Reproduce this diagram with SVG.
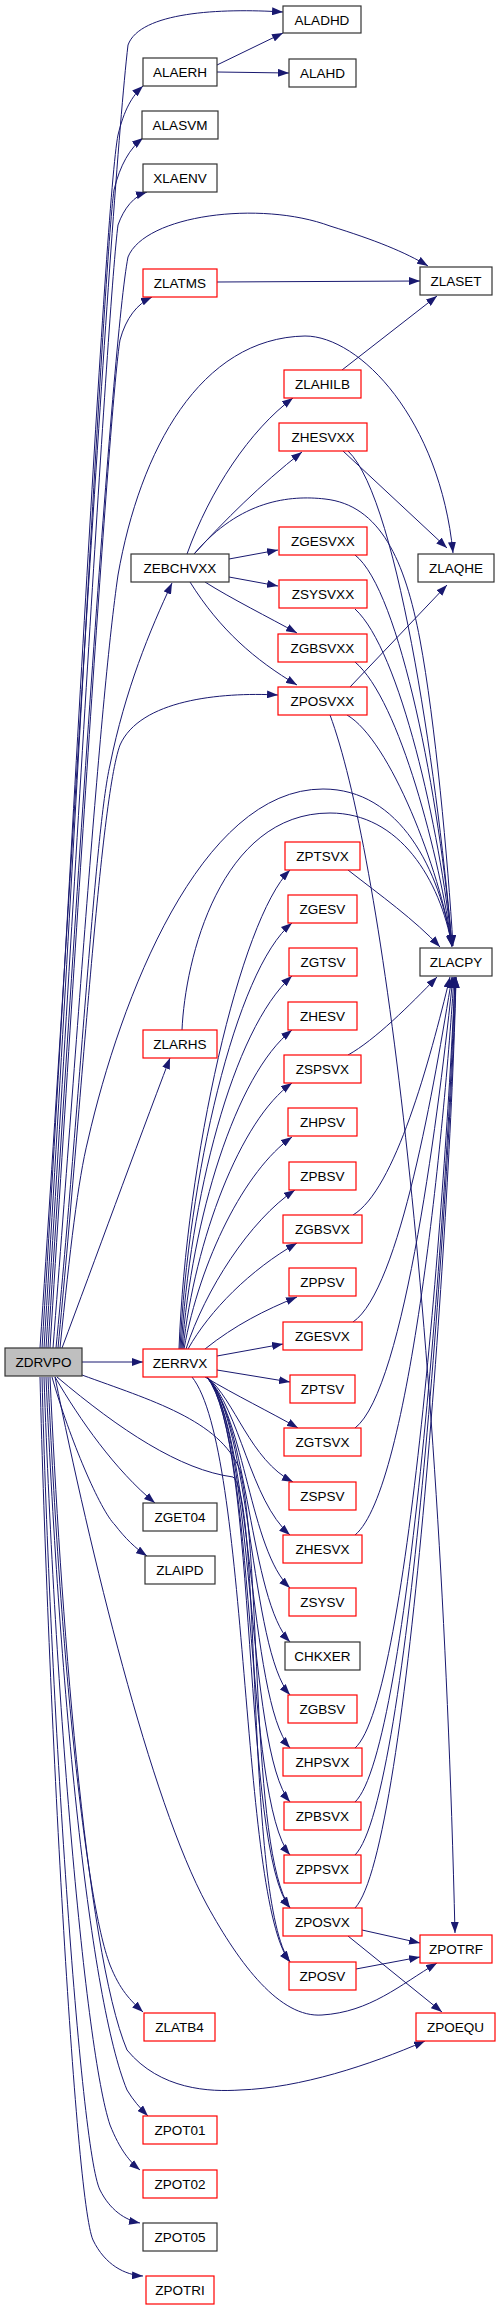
<svg xmlns="http://www.w3.org/2000/svg" width="501" height="2311" viewBox="0 0 501 2311">
<defs>
<marker id="a" markerWidth="11" markerHeight="8" refX="11" refY="4" orient="auto" markerUnits="userSpaceOnUse"><path d="M0,0 L11,4 L0,8 z" fill="#191970"/></marker>
<style>
.n rect{fill:#fff;stroke:#333;stroke-width:1.2}
.r rect{fill:#fff;stroke:#ff0000;stroke-width:1.2}
text{font-family:"Liberation Sans",Arial,sans-serif;font-size:13.5px;text-anchor:middle;fill:#000}
#edges path{fill:none;stroke:#191970;stroke-width:1;marker-end:url(#a)}
</style>
</defs>
<rect width="501" height="2311" fill="#fff"/>
<g id="edges">
<path d="M40,1348 C70,900 110,200 128,45 C140,12 220,8 283,12"/>
<path d="M42,1348 C70,900 105,200 118,135 C124,110 132,96 143,86"/>
<path d="M44,1348 C72,900 104,260 114,190 C120,165 130,148 143,138"/>
<path d="M46,1348 C74,900 108,300 118,225 C124,208 134,196 147,192"/>
<path d="M48,1348 C76,900 112,340 128,257 C145,215 260,200 330,226 C375,240 405,252 428,266"/>
<path d="M50,1348 C78,900 110,400 120,340 C126,318 137,304 152,297"/>
<path d="M53,1348 C80,1000 100,700 118,575 C140,450 200,338 305,336 C360,336 440,420 453,553"/>
<path d="M56,1348 C80,1100 95,830 110,765 C125,690 150,630 172,583"/>
<path d="M58,1348 C82,1100 100,800 120,745 C140,700 220,692 278,695"/>
<path d="M60,1348 C70,1250 78,1180 88,1140 C120,1000 200,789 323,789 C400,789 440,870 452,947"/>
<path d="M62,1348 C95,1260 135,1150 170,1058"/>
<path d="M82,1362 L143,1362"/>
<path d="M55,1377 C80,1420 115,1470 155,1503"/>
<path d="M52,1377 C70,1440 100,1510 115,1525 C125,1538 135,1548 147,1556"/>
<path d="M82,1375 C150,1400 220,1420 240,1470 C262,1560 250,1850 290,1908"/>
<path d="M57,1377 C120,1430 180,1470 233,1477 C262,1500 245,1900 290,1962"/>
<path d="M55,1377 C90,1550 150,1800 207,1905 C240,1965 280,2018 322,2015 C370,2012 400,1985 437,1963"/>
<path d="M50,1377 C60,1600 85,1950 127,2050 C160,2090 210,2092 240,2090 C300,2088 370,2065 425,2041"/>
<path d="M48,1377 C60,1650 85,1900 110,1965 C120,1990 130,2000 143,2012"/>
<path d="M46,1377 C60,1700 90,2000 127,2090 C133,2100 140,2108 148,2116"/>
<path d="M44,1377 C55,1700 85,2050 110,2125 C120,2150 130,2162 140,2170"/>
<path d="M42,1377 C50,1700 80,2150 100,2190 C110,2210 125,2220 140,2223"/>
<path d="M40,1377 C48,1700 75,2200 93,2240 C105,2265 125,2275 143,2276"/>
<path d="M217,65 L283,33"/>
<path d="M217,72 L289,73"/>
<path d="M217,282 L420,281"/>
<path d="M342,370 L437,296"/>
<path d="M187,554 C210,490 250,430 293,398"/>
<path d="M194,554 C225,520 260,485 302,452"/>
<path d="M229,559 L278,550"/>
<path d="M229,577 L278,586"/>
<path d="M205,582 C230,598 270,618 297,633"/>
<path d="M190,582 C220,630 255,660 297,685"/>
<path d="M195,553 C240,500 290,495 325,499 C380,505 405,560 420,640 C435,720 448,860 453,946"/>
<path d="M343,451 L447,548"/>
<path d="M350,687 L447,585"/>
<path d="M330,715 C380,850 440,1300 455,1933"/>
<path d="M348,451 C400,500 440,800 452,946"/>
<path d="M355,555 C400,590 440,800 452,946"/>
<path d="M355,609 C400,650 440,830 452,946"/>
<path d="M355,662 C400,700 440,860 452,946"/>
<path d="M347,715 C390,740 440,870 452,946"/>
<path d="M182,1030 C185,960 220,813 330,813 C400,813 440,880 452,946"/>
<path d="M348,870 C380,895 415,920 440,947"/>
<path d="M348,1055 C375,1040 410,1005 437,977"/>
<path d="M353,1215 C395,1190 430,1060 450,977"/>
<path d="M353,1322 C400,1290 435,1080 452,977"/>
<path d="M355,1428 C405,1390 440,1100 453,977"/>
<path d="M355,1535 C410,1490 445,1120 454,977"/>
<path d="M355,1748 C410,1700 448,1150 455,977"/>
<path d="M355,1802 C410,1750 450,1160 455,977"/>
<path d="M355,1855 C410,1800 450,1170 456,977"/>
<path d="M355,1908 C410,1850 452,1180 456,977"/>
<path d="M179,1349 C186,1160 240,920 290,870"/>
<path d="M180,1349 C188,1180 235,970 292,923"/>
<path d="M181,1349 C190,1200 232,1030 292,976"/>
<path d="M182,1349 C192,1220 235,1075 292,1030"/>
<path d="M183,1349 C195,1240 240,1120 292,1083"/>
<path d="M184,1349 C200,1260 245,1170 292,1137"/>
<path d="M186,1349 C205,1290 250,1220 295,1190"/>
<path d="M188,1349 C210,1310 250,1270 297,1243"/>
<path d="M205,1349 C235,1325 265,1310 297,1297"/>
<path d="M217,1356 L283,1344"/>
<path d="M217,1370 L290,1382"/>
<path d="M205,1377 C235,1395 270,1412 298,1428"/>
<path d="M207,1377 C235,1400 250,1460 293,1482"/>
<path d="M207,1377 C240,1410 250,1500 290,1535"/>
<path d="M207,1377 C245,1420 250,1550 290,1588"/>
<path d="M207,1377 C248,1420 250,1600 290,1642"/>
<path d="M207,1377 C250,1420 250,1650 290,1695"/>
<path d="M207,1377 C252,1430 248,1700 290,1748"/>
<path d="M207,1377 C254,1430 246,1750 290,1802"/>
<path d="M207,1377 C256,1440 244,1800 290,1855"/>
<path d="M207,1377 C258,1440 242,1850 290,1908"/>
<path d="M192,1377 C250,1450 240,1900 290,1962"/>
<path d="M362,1930 L420,1943"/>
<path d="M356,1969 L420,1957"/>
<path d="M348,1936 L442,2012"/>
</g>
<g id="ALADHD" class="n"><rect x="283" y="6" width="78" height="27"/><text x="322" y="24.5">ALADHD</text></g>
<g id="ALAERH" class="n"><rect x="143" y="58" width="74" height="28"/><text x="180" y="77">ALAERH</text></g>
<g id="ALAHD" class="n"><rect x="289" y="59" width="67" height="28"/><text x="322.5" y="78">ALAHD</text></g>
<g id="ALASVM" class="n"><rect x="142" y="111" width="76" height="28"/><text x="180" y="130">ALASVM</text></g>
<g id="XLAENV" class="n"><rect x="143" y="164" width="74" height="28"/><text x="180" y="183">XLAENV</text></g>
<g id="ZLATMS" class="r"><rect x="143" y="269" width="74" height="28"/><text x="180" y="288">ZLATMS</text></g>
<g id="ZLASET" class="n"><rect x="420" y="267" width="72" height="28"/><text x="456" y="286">ZLASET</text></g>
<g id="ZLAHILB" class="r"><rect x="284" y="370" width="77" height="28"/><text x="322.5" y="389">ZLAHILB</text></g>
<g id="ZHESVXX" class="r"><rect x="279" y="423" width="88" height="28"/><text x="323" y="442">ZHESVXX</text></g>
<g id="ZGESVXX" class="r"><rect x="279" y="527" width="88" height="28"/><text x="323" y="546">ZGESVXX</text></g>
<g id="ZEBCHVXX" class="n"><rect x="131" y="554" width="98" height="28"/><text x="180" y="573">ZEBCHVXX</text></g>
<g id="ZLAQHE" class="n"><rect x="418" y="554" width="76" height="28"/><text x="456" y="573">ZLAQHE</text></g>
<g id="ZSYSVXX" class="r"><rect x="279" y="580" width="88" height="28"/><text x="323" y="599">ZSYSVXX</text></g>
<g id="ZGBSVXX" class="r"><rect x="278" y="634" width="89" height="28"/><text x="322.5" y="653">ZGBSVXX</text></g>
<g id="ZPOSVXX" class="r"><rect x="278" y="687" width="89" height="28"/><text x="322.5" y="706">ZPOSVXX</text></g>
<g id="ZPTSVX" class="r"><rect x="285" y="842" width="75" height="28"/><text x="322.5" y="861">ZPTSVX</text></g>
<g id="ZGESV" class="r"><rect x="288" y="895" width="69" height="28"/><text x="322.5" y="914">ZGESV</text></g>
<g id="ZLACPY" class="n"><rect x="420" y="948" width="72" height="28"/><text x="456" y="967">ZLACPY</text></g>
<g id="ZGTSV" class="r"><rect x="289" y="948" width="68" height="28"/><text x="323" y="967">ZGTSV</text></g>
<g id="ZHESV" class="r"><rect x="288" y="1002" width="69" height="28"/><text x="322.5" y="1021">ZHESV</text></g>
<g id="ZLARHS" class="r"><rect x="143" y="1030" width="74" height="28"/><text x="180" y="1049">ZLARHS</text></g>
<g id="ZSPSVX" class="r"><rect x="284" y="1055" width="77" height="28"/><text x="322.5" y="1074">ZSPSVX</text></g>
<g id="ZHPSV" class="r"><rect x="288" y="1108" width="69" height="28"/><text x="322.5" y="1127">ZHPSV</text></g>
<g id="ZPBSV" class="r"><rect x="289" y="1162" width="67" height="28"/><text x="322.5" y="1181">ZPBSV</text></g>
<g id="ZGBSVX" class="r"><rect x="283" y="1215" width="79" height="28"/><text x="322.5" y="1234">ZGBSVX</text></g>
<g id="ZPPSV" class="r"><rect x="289" y="1268" width="67" height="28"/><text x="322.5" y="1287">ZPPSV</text></g>
<g id="ZGESVX" class="r"><rect x="283" y="1322" width="79" height="28"/><text x="322.5" y="1341">ZGESVX</text></g>
<g id="ZDRVPO" class="n"><rect x="5" y="1348" width="77" height="28" style="fill:#bfbfbf"/><text x="43.5" y="1367">ZDRVPO</text></g>
<g id="ZERRVX" class="r"><rect x="143" y="1349" width="74" height="28"/><text x="180" y="1368">ZERRVX</text></g>
<g id="ZPTSV" class="r"><rect x="290" y="1375" width="65" height="28"/><text x="322.5" y="1394">ZPTSV</text></g>
<g id="ZGTSVX" class="r"><rect x="284" y="1428" width="77" height="28"/><text x="322.5" y="1447">ZGTSVX</text></g>
<g id="ZSPSV" class="r"><rect x="289" y="1482" width="67" height="28"/><text x="322.5" y="1501">ZSPSV</text></g>
<g id="ZGET04" class="n"><rect x="143" y="1503" width="74" height="28"/><text x="180" y="1522">ZGET04</text></g>
<g id="ZHESVX" class="r"><rect x="283" y="1535" width="79" height="28"/><text x="322.5" y="1554">ZHESVX</text></g>
<g id="ZLAIPD" class="n"><rect x="145" y="1556" width="70" height="28"/><text x="180" y="1575">ZLAIPD</text></g>
<g id="ZSYSV" class="r"><rect x="289" y="1588" width="67" height="28"/><text x="322.5" y="1607">ZSYSV</text></g>
<g id="CHKXER" class="n"><rect x="285" y="1642" width="75" height="28"/><text x="322.5" y="1661">CHKXER</text></g>
<g id="ZGBSV" class="r"><rect x="288" y="1695" width="69" height="28"/><text x="322.5" y="1714">ZGBSV</text></g>
<g id="ZHPSVX" class="r"><rect x="283" y="1748" width="79" height="28"/><text x="322.5" y="1767">ZHPSVX</text></g>
<g id="ZPBSVX" class="r"><rect x="284" y="1802" width="77" height="28"/><text x="322.5" y="1821">ZPBSVX</text></g>
<g id="ZPPSVX" class="r"><rect x="284" y="1855" width="77" height="28"/><text x="322.5" y="1874">ZPPSVX</text></g>
<g id="ZPOSVX" class="r"><rect x="283" y="1908" width="79" height="28"/><text x="322.5" y="1927">ZPOSVX</text></g>
<g id="ZPOTRF" class="r"><rect x="420" y="1935" width="72" height="28"/><text x="456" y="1954">ZPOTRF</text></g>
<g id="ZPOSV" class="r"><rect x="289" y="1962" width="67" height="28"/><text x="322.5" y="1981">ZPOSV</text></g>
<g id="ZLATB4" class="r"><rect x="144" y="2013" width="71" height="28"/><text x="179.5" y="2032">ZLATB4</text></g>
<g id="ZPOEQU" class="r"><rect x="416" y="2013" width="79" height="28"/><text x="455.5" y="2032">ZPOEQU</text></g>
<g id="ZPOT01" class="r"><rect x="143" y="2116" width="74" height="28"/><text x="180" y="2135">ZPOT01</text></g>
<g id="ZPOT02" class="r"><rect x="143" y="2170" width="74" height="28"/><text x="180" y="2189">ZPOT02</text></g>
<g id="ZPOT05" class="n"><rect x="143" y="2223" width="74" height="28"/><text x="180" y="2242">ZPOT05</text></g>
<g id="ZPOTRI" class="r"><rect x="146" y="2276" width="68" height="28"/><text x="180" y="2295">ZPOTRI</text></g>
</svg>
